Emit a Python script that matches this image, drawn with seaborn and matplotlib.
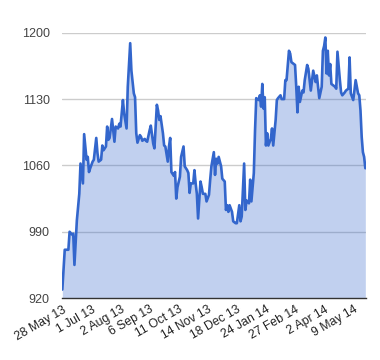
import numpy as np
import pandas as pd
import seaborn as sns
import matplotlib.pyplot as plt

# trading-day index (0 = 28 May 13) and closing value
day = [0, 2, 5, 6, 8, 9, 10, 12, 14, 15, 17, 18, 20, 21, 22, 23, 25, 26, 28, 29,
       30, 32, 33, 34, 36, 37, 38, 39, 41, 43, 44, 46, 47, 48, 50, 51, 53, 54, 56, 57,
       59, 60, 61, 62, 64, 65, 66, 68, 69, 70, 72, 73, 75, 76, 78, 79, 80, 81, 83, 84,
       85, 87, 88, 89, 90, 92, 93, 94, 95, 97, 98, 100, 101, 103, 104, 105, 106, 108, 109, 110,
       111, 112, 114, 115, 116, 118, 119, 121, 122, 123, 125, 126, 127, 128, 129, 131, 132, 134, 135, 136,
       137, 138, 140, 141, 143, 144, 146, 147, 148, 150, 151, 152, 154, 155, 156, 158, 159, 160, 162, 163,
       164, 165, 166, 167, 168, 169, 170, 172, 173, 174, 176, 177, 178, 180, 181, 183, 184, 185, 187, 188,
       189, 191, 192, 193, 194, 195, 196, 198, 199, 200, 202, 203, 205, 206, 207, 209, 210, 211, 212, 214,
       215, 216, 217, 218, 219, 220, 221, 222, 223, 225, 226, 227, 229, 230, 231, 233, 234, 236, 237, 238,
       240, 241, 242, 244, 245, 246, 247, 248, 249, 250]
value = [929, 971, 971, 990, 987, 988, 955, 1002, 1030, 1062, 1041, 1093, 1066, 1069, 1053, 1057, 1064, 1066, 1089, 1073,
         1064, 1066, 1081, 1076, 1080, 1101, 1087, 1089, 1109, 1085, 1101, 1099, 1104, 1101, 1129, 1115, 1099, 1143, 1189, 1160,
         1136, 1132, 1094, 1084, 1092, 1090, 1086, 1088, 1086, 1085, 1097, 1102, 1083, 1078, 1124, 1118, 1108, 1112, 1094, 1081,
         1080, 1064, 1080, 1089, 1053, 1049, 1053, 1025, 1037, 1048, 1069, 1080, 1059, 1055, 1052, 1031, 1041, 1041, 1055, 1041,
         1030, 1004, 1043, 1037, 1030, 1030, 1022, 1029, 1045, 1059, 1074, 1050, 1067, 1062, 1069, 1059, 1046, 1043, 1013, 1018,
         1011, 1018, 1011, 1001, 999, 999, 1018, 1001, 1006, 1062, 1013, 1023, 1020, 1045, 1022, 1052, 1097, 1131, 1129, 1134,
         1122, 1146, 1120, 1132, 1081, 1094, 1081, 1088, 1099, 1081, 1108, 1129, 1131, 1134, 1130, 1130, 1150, 1150, 1181, 1178,
         1169, 1167, 1166, 1143, 1116, 1143, 1127, 1139, 1137, 1150, 1166, 1162, 1139, 1150, 1160, 1148, 1155, 1143, 1131, 1143,
         1181, 1186, 1195, 1157, 1181, 1155, 1167, 1146, 1145, 1143, 1141, 1180, 1150, 1137, 1134, 1137, 1139, 1141, 1174, 1136,
         1129, 1139, 1150, 1136, 1134, 1118, 1090, 1074, 1069, 1057]

tick_days = [0, 24, 48, 72, 96, 120, 144, 168, 192, 216, 240]
tick_labels = ["28 May 13", "1 Jul 13", "2 Aug 13", "6 Sep 13", "11 Oct 13", "14 Nov 13",
               "18 Dec 13", "24 Jan 14", "27 Feb 14", "2 Apr 14", "9 May 14"]
y_ticks = [920, 990, 1060, 1130, 1200]

df = pd.DataFrame({"day": day, "value": value})

sns.set_theme(style="white")
plt.rcParams['font.family'] = ['Liberation Sans', 'DejaVu Sans']

fig = plt.figure(figsize=(3.8, 3.6), dpi=100)
ax = fig.add_axes([0.164, 0.172, 0.799, 0.737])

ax.fill_between(df["day"], 920, df["value"], color="#3366cc", alpha=0.3, linewidth=0)
sns.lineplot(data=df, x="day", y="value", color="#3366cc", linewidth=1.9, ax=ax)

ax.set_xlim(0, 250.5)
ax.set_ylim(920, 1200)
ax.set_yticks(y_ticks)
ax.set_yticklabels([str(v) for v in y_ticks], fontsize=9, color="#444444")
ax.set_xticks(tick_days)
ax.set_xticklabels(tick_labels, rotation=30, ha="right", rotation_mode="anchor",
                   fontsize=8.8, color="#222222")
ax.tick_params(axis="both", length=0)
ax.tick_params(axis="y", pad=9)
ax.tick_params(axis="x", pad=4)

for v in y_ticks[1:]:
    ax.axhline(v, color="#cccccc", linewidth=1, zorder=0)

for s in ["top", "right", "left"]:
    ax.spines[s].set_visible(False)
ax.spines["bottom"].set_color("#333333")
ax.spines["bottom"].set_linewidth(1)
ax.set_xlabel("")
ax.set_ylabel("")

plt.savefig("out.png", dpi=100)
